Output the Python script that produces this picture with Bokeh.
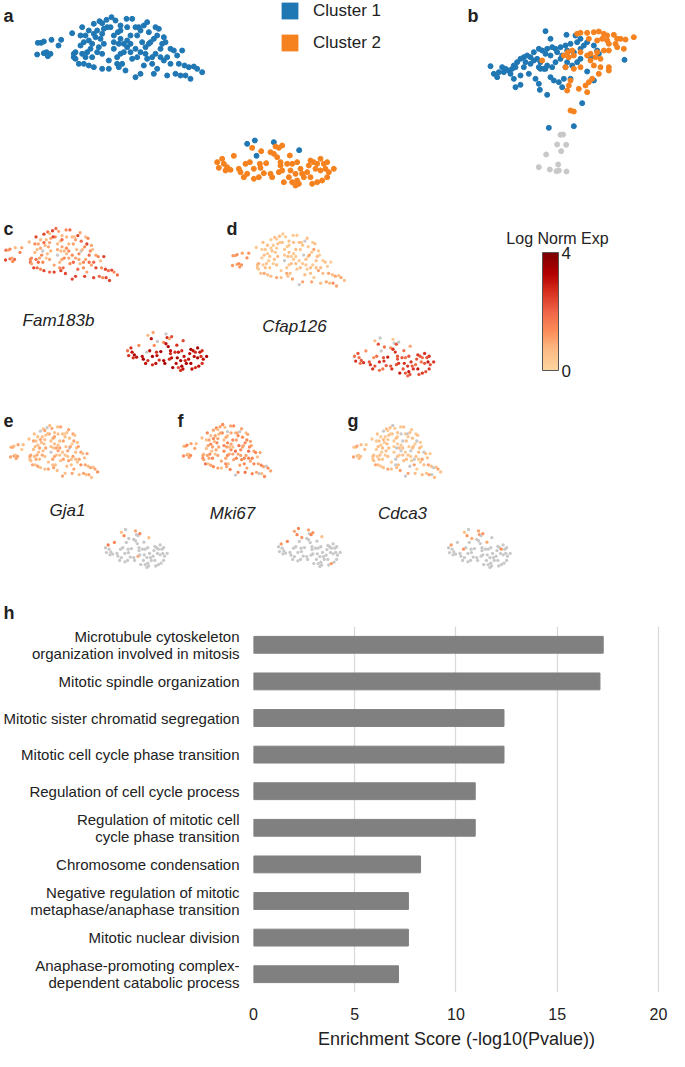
from bokeh.plotting import figure
from bokeh.models import (Range1d, ColumnDataSource, LinearColorMapper, ColorBar,
                          FixedTicker, Label, Legend, LegendItem, FactorRange)
from bokeh.layouts import row, column
from bokeh.embed import file_html
from bokeh.resources import INLINE
from bokeh.transform import transform
from bokeh.palettes import interp_palette, OrRd9

# ---------------- data ----------------
# t-SNE embedding (arbitrary units, y grows downward), cluster 1 main cloud
c1_x = [22, 32, 40, 63, 92, 84, 20, 40, 48, 60,
        52, 125, 190, 207, 215, 228, 243, 255, 270, 288,
        305, 315, 325, 340, 350, 355, 375, 385, 380, 400,
        395, 405, 390, 420, 430, 455, 440, 410, 400, 420,
        445, 462, 475, 490, 500, 515, 480, 465, 450, 435,
        410, 380, 365, 370, 340, 350, 330, 345, 355, 335,
        320, 300, 290, 280, 270, 262, 250, 240, 230, 220,
        200, 190, 175, 165, 150, 160, 175, 185, 195, 210,
        220, 180, 170, 155, 135, 130, 135, 145, 160, 175,
        190, 215, 235, 235, 260, 265, 275, 285, 260, 250,
        270, 280, 290, 300, 315, 320, 305, 330, 315, 345,
        365, 375, 390, 360, 370, 215, 200, 205, 185, 165,
        150, 130, 250, 265, 300, 330, 290, 270, 155, 215]
c1_y = [97, 97, 93, 88, 88, 105, 132, 128, 125, 130,
        137, 68, 40, 32, 38, 28, 20, 30, 45, 25,
        25, 50, 50, 45, 35, 65, 50, 55, 75, 80,
        100, 95, 115, 115, 120, 120, 135, 140, 150, 160,
        160, 165, 170, 168, 175, 185, 205, 195, 195, 190,
        195, 175, 160, 190, 165, 145, 125, 110, 100, 95,
        75, 75, 90, 100, 85, 65, 75, 50, 50, 55,
        60, 70, 60, 75, 75, 95, 90, 100, 80, 85,
        100, 115, 125, 130, 125, 140, 145, 160, 160, 165,
        170, 175, 175, 150, 160, 170, 160, 180, 140, 115,
        130, 125, 110, 125, 115, 140, 145, 190, 200, 130,
        140, 130, 140, 95, 85, 130, 125, 110, 140, 140,
        105, 130, 95, 100, 100, 60, 50, 60, 50, 70]
# cluster 1 cells lying near cluster 2
c1out_x = [650, 673, 730, 678, 806]
c1out_y = [400, 390, 395, 436, 419]
# cluster 2
c2_x = [665, 692, 720, 735, 745, 755, 740, 750, 778, 610,
        560, 575, 580, 565, 590, 600, 585, 625, 630, 650,
        658, 670, 688, 690, 707, 700, 685, 725, 745, 755,
        750, 780, 785, 800, 810, 760, 775, 795, 815, 830,
        840, 850, 860, 870, 880, 890, 855, 870, 885, 895,
        910, 840, 845, 860, 875, 890, 800, 805, 795, 785,
        730, 720, 670, 645, 835, 820, 770, 640]
c2_y = [412, 422, 425, 408, 412, 405, 440, 455, 435, 436,
        455, 445, 460, 472, 470, 478, 480, 475, 485, 490,
        455, 475, 460, 472, 458, 488, 500, 500, 485, 480,
        465, 480, 460, 455, 475, 515, 500, 490, 490, 485,
        450, 455, 460, 445, 460, 455, 475, 480, 475, 485,
        475, 500, 520, 515, 510, 500, 510, 520, 525, 515,
        430, 490, 505, 460, 465, 500, 460, 500]

# panel b embedding
b_blue_x = [195, 258, 285, 300, 290, 270, 255, 240, 225, 210,
            215, 200, 185, 175, 195, 210, 230, 245, 260, 280,
            300, 310, 320, 340, 350, 355, 330, 300, 290, 275,
            260, 255, 240, 225, 215, 200, 190, 180, 170, 160,
            150, 140, 130, 135, 120, 110, 100, 95, 105, 85,
            75, 65, 55, 40, 30, 50, 70, 90, 100, 120,
            145, 165, 180, 195, 210, 220, 235, 250, 270, 245,
            200, 175, 178, 120, 105, 305, 205, 280, 320, 432,
            340, 175, 130, 150, 160]
b_blue_y = [17, 28, 30, 40, 50, 55, 60, 65, 70, 40,
            65, 70, 75, 70, 85, 90, 80, 90, 75, 80,
            70, 60, 50, 60, 75, 85, 95, 100, 110, 120,
            110, 125, 100, 110, 125, 120, 130, 110, 100, 105,
            95, 90, 95, 110, 100, 110, 120, 130, 125, 135,
            130, 125, 140, 145, 122, 155, 140, 145, 160, 150,
            145, 160, 130, 130, 155, 165, 170, 160, 160, 185,
            208, 175, 193, 178, 185, 233, 307, 302, 138, 103,
            165, 125, 125, 115, 80]
b_orange_x = [290, 300, 320, 340, 355, 370, 380, 400, 410, 420,
              435, 460, 325, 350, 365, 380, 385, 405, 410, 430,
              385, 370, 350, 330, 320, 300, 280, 265, 330, 340,
              360, 385, 385, 355, 335, 325, 315, 320, 295, 265,
              260, 270, 250, 275, 262, 185, 255, 280, 300, 270,
              280, 345, 360]
b_orange_y = [25, 22, 22, 20, 18, 25, 30, 28, 40, 40,
              42, 35, 40, 45, 40, 45, 55, 55, 65, 70,
              75, 75, 80, 85, 90, 80, 90, 95, 105, 120,
              125, 125, 135, 145, 160, 170, 180, 200, 190, 180,
              195, 165, 90, 75, 80, 105, 125, 130, 125, 255,
              258, 95, 100]
b_grey_x = [240, 248, 230, 257, 242, 197, 233, 175, 208, 228, 235, 258]
b_grey_y = [328, 327, 357, 358, 377, 387, 417, 425, 432, 437, 435, 438]

# log-normalised expression (0 = not detected), order: c1, c1out, c2
fam183b = [1.9, 1, 1.4, 0.7, 1, 1.4, 2.4, 1.9, 1, 1.9,
           1.4, 0.7, 2.4, 1.9, 0.7, 2.4, 1.9, 1, 0.7, 1.4,
           1.9, 0.7, 0.5, 2.4, 1, 1.9, 0.7, 1.4, 2.4, 1,
           1.4, 0.7, 1.9, 1, 1.4, 2.4, 0.7, 1.9, 1, 2.4,
           1.4, 2.4, 1.9, 2.4, 1.4, 1.9, 2.4, 2.4, 1.4, 1.9,
           2.4, 1, 1.4, 2.4, 1.9, 0.7, 1, 1.4, 0, 0.7,
           1, 0.7, 1.4, 0.7, 1, 0.5, 0.7, 1.4, 2.4, 1,
           0.7, 1.9, 0.7, 1, 1.4, 0.7, 1, 0, 0.7, 1,
           0.7, 1.4, 1, 1.9, 1.4, 1.9, 1, 2.4, 1.9, 1.4,
           2.4, 1.9, 2.4, 1, 1.4, 2.4, 1.9, 2.4, 0.7, 0,
           1, 1.4, 0.7, 1, 1.4, 1.9, 1.4, 2.4, 2.4, 1,
           1.4, 1, 1.9, 0.7, 1.4, 1, 0.5, 0.7, 1.4, 1.9,
           0.7, 1.4, 1, 0.7, 1.4, 1, 0.7, 1.9, 2.4, 1,
           0.7, 1, 0, 1.4, 2.4,
           3.1, 0, 1.4, 2.7, 1.0, 2.3, 3.4, 3.1, 2.7, 1.4,
           1.8, 2.7, 3.1, 2.7, 3.4, 3.1, 2.7, 3.1, 3.4, 2.7,
           3.1, 3.4, 2.7, 3.1, 3.4, 2.7, 3.1, 3.4, 2.7, 3.1,
           2.7, 3.4, 3.1, 2.7, 3.1, 3.4, 3.1, 3.4, 2.7, 3.1,
           3.4, 3.1, 2.7, 3.4, 3.1, 2.7, 3.1, 3.4, 2.7, 3.1,
           3.4, 3.4, 3.1, 2.7, 3.1, 2.7, 3.4, 3.1, 2.7, 2.3,
           3.1, 3.4, 2.7, 0, 3.1, 3.4, 2.7, 3.1]
cfap126 = [1.2, 1, 1.3, 1, 1.2, 1.3, 1.2, 1, 1.3, 1.2,
           1.2, 0.3, 0.3, 0.6, 0.3, 0.6, 0.3, 0.3, 0.6, 0.3,
           0.3, 0.6, 0.3, 0, 0.6, 0.3, 0.3, 0.6, 1, 0.3,
           0.6, 0.3, 0.6, 0.3, 0.6, 0.3, 0.3, 0.6, 1, 0.6,
           1, 0.6, 1, 0.6, 1, 0.6, 1, 1.3, 0.6, 1,
           0.6, 0.3, 0.6, 1, 0.6, 0.3, 0.3, 0.6, 0.3, 0,
           0.3, 0.6, 0.3, 0.3, 0.6, 0.3, 0.3, 0.6, 0.3, 0.6,
           0.3, 0.3, 0.6, 0.3, 0.3, 0.6, 0.3, 0.3, 0.6, 0.3,
           0.6, 0.3, 0.6, 0.3, 1, 0.6, 0.3, 0.6, 1, 0.6,
           0.6, 1, 0.6, 0.3, 1, 0.6, 0.6, 1, 0.3, 0,
           0.3, 0.6, 0.3, 0.6, 0.3, 0.6, 0.3, 1, 0, 0.3,
           0.6, 0.3, 0.6, 1, 0.3, 0.6, 0.3, 0.6, 0.3, 0.6,
           0.3, 0.6, 0.3, 0.6, 0.3, 0.3, 0.6, 0.3, 0.6, 0.3,
           0.6, 0, 0.3, 0, 1,
           2.2, 1.8, 1.3, 0, 2.2, 0, 2.6, 2.2, 1.8, 1.3,
           1.8, 2.2, 1.8, 2.6, 2.2, 2.6, 1.8, 2.2, 2.6, 2.2,
           1.8, 2.6, 2.2, 2.6, 3, 2.2, 1.8, 2.6, 2.2, 2.6,
           2.2, 2.6, 1.8, 2.2, 2.6, 3, 2.2, 2.6, 2.2, 1.8,
           2.6, 2.2, 1.8, 2.6, 2.2, 2.6, 1.8, 2.2, 3, 2.2,
           2.6, 3, 2.2, 2.6, 2.2, 2.6, 3, 2.2, 1.8, 2.2,
           2.6, 2.2, 1.8, 1.3, 2.2, 2.6, 2.2, 2.6]
gja1 = [0.6, 1, 0.6, 1, 0.6, 0.3, 1, 1.3, 0.6, 1,
        1, 0.6, 0, 0.6, 1, 0, 0.6, 1, 0.6, 0.6,
        1, 0.6, 0.3, 0.6, 1, 0.6, 1, 0.6, 1, 0.6,
        0.6, 1, 0.6, 1, 0.6, 1, 0.6, 1, 0.6, 1.3,
        1, 0.6, 1, 0.6, 1, 1.3, 0.6, 1, 0.6, 1,
        0.6, 1, 0.6, 1, 0.6, 1, 0.6, 1, 0, 0.6,
        1, 0.6, 0.6, 1, 0.6, 1, 0.6, 1, 0.6, 0.3,
        0.6, 1, 0.6, 0.6, 1, 0.6, 0.6, 1, 0.6, 0.6,
        1, 0.6, 1, 0.6, 1, 0.6, 0.6, 1, 0.6, 1,
        0.6, 0.6, 1, 0.6, 0.6, 1, 0.6, 0.6, 1, 0,
        1, 0.6, 1, 0.6, 0.6, 1, 0.6, 0.6, 1, 0.6,
        0.6, 1, 0.6, 1, 0.3, 0.6, 1, 0.6, 0.6, 1,
        0.6, 1, 0.6, 0.6, 1, 0.6, 0.6, 1, 0.6, 0.6,
        0.6, 0, 1, 0, 0.6,
        1.4, 0, 0, 0, 0, 1.4, 0, 0, 0, 1.4,
        0, 1.6, 0, 0, 0, 0, 0, 0, 0, 0,
        0, 0, 0, 0, 0, 0, 0, 0, 1, 0,
        0, 0, 0, 0, 0, 0, 0, 0, 0, 0,
        0, 0, 0, 0, 0, 0, 0, 0, 0, 0,
        0, 0, 0, 0, 0, 0, 0, 0, 0, 0,
        0, 0, 0, 0, 0, 0, 0, 0]
mki67 = [0.6, 1, 1.4, 1, 0.6, 1, 1.4, 1, 0.6, 1.4,
         1, 0.6, 1, 1.4, 0.6, 1, 1.4, 0.6, 0, 1,
         1.4, 0.6, 1, 0, 1, 1.4, 0.6, 1, 1.4, 1,
         1.4, 1, 1.8, 1, 1.4, 1, 0.6, 1.4, 1, 1.4,
         1, 1.4, 1, 0, 1.4, 1, 1.4, 0.6, 0, 1,
         1.4, 1, 1.4, 1.8, 1, 1.4, 1, 1.4, 1, 1.8,
         1, 1.4, 1, 0.6, 1.4, 1, 0.6, 1.4, 1, 0.6,
         1, 1.4, 0.6, 1, 0.6, 1, 1.4, 1, 0.6, 1.4,
         1, 0.6, 1.4, 1, 0.6, 1.4, 1, 1.8, 0.6, 1,
         1.4, 1, 0.6, 1, 1.4, 1, 0.6, 1.4, 1, 1.4,
         1.4, 1, 1.4, 1, 1.8, 1.4, 1, 1.4, 0, 1,
         1.4, 1, 1.4, 1, 1.4, 1, 0.6, 1, 1.4, 1,
         0.6, 1, 1.4, 1, 0.6, 1.4, 1, 0.6, 1.4, 1,
         1, 1.4, 1, 0, 0.6,
         1.5, 1.2, 0, 0, 1.5, 1.2, 0, 0, 0, 1.5,
         0, 1.2, 0, 0, 0, 0, 0, 0, 0, 0,
         0, 0, 0, 0, 0, 0, 0, 0, 0, 0,
         0, 0, 0, 0, 0, 0, 0, 0, 0, 0,
         0, 0, 0, 0, 0, 0, 0, 0, 0, 0,
         0, 0, 0, 1.2, 0, 0, 0, 0, 0, 0,
         0, 0, 0, 0, 0, 0, 0, 0]
cdca3 = [0.3, 0.6, 1, 0.6, 0.3, 0.6, 1, 0.6, 0.3, 0.6,
         0.6, 0.3, 0, 0.6, 0.3, 0.6, 0, 0.3, 0.6, 0.3,
         0.6, 0.3, 0, 0.6, 0.3, 0.6, 0.3, 0.6, 0, 0.3,
         0.6, 0.3, 0.6, 0, 0.6, 0.3, 0.6, 1, 0.3, 0.6,
         1, 0.6, 0, 0.6, 1, 0.6, 0.6, 0, 1, 0.6,
         0.6, 0.3, 1, 0.6, 0, 0.3, 0.6, 0, 0.6, 0.3,
         0.6, 0, 0.3, 0.6, 0.3, 0.6, 0.3, 0.6, 0.3, 0.6,
         0.3, 0.6, 0.3, 0.6, 0.3, 0.6, 0.3, 0.6, 0.3, 0.6,
         0.6, 0.3, 0.6, 0.3, 0.6, 0.3, 0.6, 1, 0.6, 0.3,
         0.6, 1, 0.6, 0.3, 0, 0.6, 0.6, 1, 0, 0.3,
         0.6, 0.3, 0, 0.6, 0.3, 0.6, 0.6, 1, 0, 0.3,
         0, 0.6, 0.3, 0.6, 0.3, 0.6, 0.3, 0.6, 0.3, 0.6,
         0.3, 0.6, 0.3, 0, 0.6, 0.3, 0, 0.3, 0.6, 0.3,
         0.6, 0, 1, 0, 0,
         1.2, 0.9, 0, 1.2, 0, 1.2, 0, 0, 0.9, 0,
         0, 1.2, 0, 0, 0, 0, 0, 0, 0, 0,
         0, 0, 0, 0, 0, 0, 0, 0, 0, 0,
         0, 0, 0, 0, 0, 0, 0, 0, 0, 0,
         0, 0, 1.2, 0, 0, 0, 0, 0, 0, 0,
         0, 0, 0, 0, 0, 0, 0, 0, 0, 0,
         0, 0, 0, 1.2, 0, 0, 0, 0]

legend_labels = ["Cluster 1", "Cluster 2"]
gene_names = ["Fam183b", "Cfap126", "Gja1", "Mki67", "Cdca3"]
colorbar_title = "Log Norm Exp"
colorbar_ticks = [0, 4]

go_terms = ["Microtubule cytoskeleton\norganization involved in mitosis",
            "Mitotic spindle organization",
            "Mitotic sister chromatid segregation",
            "Mitotic cell cycle phase transition",
            "Regulation of cell cycle process",
            "Regulation of mitotic cell\ncycle phase transition",
            "Chromosome condensation",
            "Negative regulation of mitotic\nmetaphase/anaphase transition",
            "Mitotic nuclear division",
            "Anaphase-promoting complex-\ndependent catabolic process"]
enrichment = [17.27, 17.11, 12.37, 12.37, 10.95, 10.95, 8.25, 7.65, 7.65, 7.16]
x_ticks = [0, 5, 10, 15, 20]
x_title = "Enrichment Score (-log10(Pvalue))"

# ---------------- styling ----------------
BLUE = "#1f77b4"
ORANGE = "#f5821f"
GREY = "#c8c8c8"
FONT = "Liberation Sans"
TXT = "#222222"

all_x = c1_x + c1out_x + c2_x
all_y = c1_y + c1out_y + c2_y
for g in (fam183b, cfap126, gja1, mki67, cdca3):
    assert len(g) == len(all_x), len(g)

pal_cells = interp_palette(list(reversed(OrRd9[:7])), 256)
pal_bar = interp_palette(list(reversed(OrRd9[:7])), 40)
cell_mapper = LinearColorMapper(palette=pal_cells, low=0.01, high=4, low_color=GREY)
bar_mapper = LinearColorMapper(palette=pal_bar, low=0, high=4)


def panel(w, h, sx, ox, sy, oy):
    """blank panel; data -> local px: x = ox + sx*d, y(from top) = oy + sy*d"""
    p = figure(width=w, height=h, output_backend="svg", toolbar_location=None,
               x_range=Range1d(-ox / sx, (w - ox) / sx),
               y_range=Range1d((h - oy) / sy, -oy / sy),
               x_axis_type=None, y_axis_type=None, min_border=0,
               outline_line_color=None)
    p.grid.visible = False
    return p


def letter(p, txt, x, y):
    p.add_layout(Label(x=x, y=y, x_units="screen", y_units="screen", text=txt,
                       text_font=FONT, text_font_size="18px", text_font_style="bold",
                       text_color=TXT, text_baseline="alphabetic"))


def gene_label(p, txt, x, y):
    p.add_layout(Label(x=x, y=y, x_units="screen", y_units="screen", text=txt,
                       text_font=FONT, text_font_size="17px", text_font_style="italic",
                       text_color=TXT, text_align="center", text_baseline="middle"))


# ---- panel a ----
fa = panel(440, 190, 1 / 3, 30, 1 / 3, 10)
fa.scatter(c1_x + c1out_x, c1_y + c1out_y, size=5, color=BLUE)
fa.scatter(c2_x, c2_y, size=5, color=ORANGE)
# zero-size rects on the same cells: only used to draw square legend swatches
r1 = fa.rect(x=c1_x, y=c1_y, width=0, height=0, fill_color=BLUE, line_alpha=0)
r2 = fa.rect(x=c2_x, y=c2_y, width=0, height=0, fill_color=ORANGE, line_alpha=0)
leg = Legend(items=[LegendItem(label=legend_labels[0], renderers=[r1]),
                    LegendItem(label=legend_labels[1], renderers=[r2])],
             location=(279, 137), orientation="vertical", padding=0, margin=0,
             spacing=11, glyph_width=21, glyph_height=21, label_height=21,
             label_standoff=13, label_text_font=FONT, label_text_font_size="17px",
             label_text_color=TXT, border_line_color=None, background_fill_alpha=0)
fa.add_layout(leg, "center")
letter(fa, "a", 3, 175)

# ---- panel b ----
fb = panel(229, 190, 1 / 3, 40, 1 / 3, 25)
fb.scatter(b_grey_x, b_grey_y, size=5, color=GREY)
fb.scatter(b_blue_x, b_blue_y, size=5, color=BLUE)
fb.scatter(b_orange_x, b_orange_y, size=5, color=ORANGE)
letter(fb, "b", 27, 175)

src = ColumnDataSource(dict(x=all_x, y=all_y, fam183b=fam183b, cfap126=cfap126,
                            gja1=gja1, mki67=mki67, cdca3=cdca3))


def expr_panel(w, h, sx, ox, sy, oy, col):
    p = panel(w, h, sx, ox, sy, oy)
    p.scatter("x", "y", source=src, size=3.3, line_color=None,
              fill_color=transform(col, cell_mapper))
    return p


# ---- panels c, d ----
fc = expr_panel(225, 195, 0.226, 0.5, 0.281, 32.4, "fam183b")
letter(fc, "c", 3, 157)
gene_label(fc, gene_names[0], 58, 65)

fd = expr_panel(230, 195, 0.226, 2.5, 0.281, 37.9, "cfap126")
letter(fd, "d", 1, 157)
gene_label(fd, gene_names[1], 69, 59)

# ---- colour bar ----
fcb = figure(width=214, height=195, output_backend="svg", toolbar_location=None,
             x_range=Range1d(0, 1), y_range=Range1d(0, 1), x_axis_type=None,
             y_axis_type=None, min_border=0, outline_line_color=None)
fcb.grid.visible = False
cb = ColorBar(color_mapper=bar_mapper, location=(87, 15), width=16, height=118,
              padding=0, margin=0, ticker=FixedTicker(ticks=colorbar_ticks),
              major_tick_line_color=None, minor_tick_line_color=None,
              major_label_text_font=FONT, major_label_text_font_size="17px",
              major_label_text_color=TXT, label_standoff=3,
              bar_line_color="#555555", bar_line_width=1,
              border_line_color=None, background_fill_alpha=0)
fcb.add_layout(cb, "center")
fcb.add_layout(Label(x=102, y=147, x_units="screen", y_units="screen",
                     text=colorbar_title, text_font=FONT, text_font_size="16px",
                     text_color=TXT, text_align="center", text_baseline="alphabetic"))

# ---- panels e, f, g (row also holds the "h" panel letter) ----
RH = 236
fe = expr_panel(173, RH, 0.176, 6.5, 0.281, 34.4, "gja1")
letter(fe, "e", 3, RH - 35)
gene_label(fe, gene_names[2], 67, RH - 125)
letter(fe, "h", 3, RH - 227)

ff = expr_panel(170, RH, 0.176, 6.5, 0.281, 33.4, "mki67")
letter(ff, "f", 4, RH - 35)
gene_label(ff, gene_names[3], 59, RH - 128)

fg = expr_panel(326, RH, 0.176, 6.5, 0.281, 34.4, "cdca3")
letter(fg, "g", 4, RH - 35)
gene_label(fg, gene_names[4], 59, RH - 128)

# ---- panel h ----
H_H = 430
TOP, BOT, LEFT, RIGHT = 5, 52, 246, 10
fh = figure(width=669, height=H_H, output_backend="svg", toolbar_location=None,
            y_range=FactorRange(*reversed(go_terms), range_padding=0),
            x_range=Range1d(0, 20.05), min_border_left=LEFT, min_border_right=RIGHT,
            min_border_top=TOP, min_border_bottom=BOT, outline_line_color=None)
fh.hbar(y=go_terms, right=enrichment, left=0, height=0.46, color="#808080")
fh.ygrid.visible = False
fh.xgrid.grid_line_color = "#d9d9d9"
fh.xgrid.grid_line_width = 1.3
fh.xaxis.ticker = FixedTicker(ticks=x_ticks)
fh.axis.axis_line_color = None
fh.axis.major_tick_line_color = None
fh.axis.minor_tick_line_color = None
fh.yaxis.major_label_text_font = FONT
fh.yaxis.major_label_text_font_size = "15px"
fh.yaxis.major_label_text_color = TXT
fh.yaxis.major_label_text_line_height = 1.0
fh.yaxis.major_label_standoff = 8
fh.xaxis.major_label_text_font = FONT
fh.xaxis.major_label_text_font_size = "16px"
fh.xaxis.major_label_text_color = TXT
fh.xaxis.major_label_standoff = 9
fh.xaxis.axis_label = x_title
fh.xaxis.axis_label_text_font = FONT
fh.xaxis.axis_label_text_font_size = "18px"
fh.xaxis.axis_label_text_font_style = "normal"
fh.xaxis.axis_label_text_color = TXT
fh.xaxis.axis_label_standoff = 6

layout = column(row(fa, fb), row(fc, fd, fcb), row(fe, ff, fg), fh)
open("out.html", "w").write(file_html(layout, INLINE))
